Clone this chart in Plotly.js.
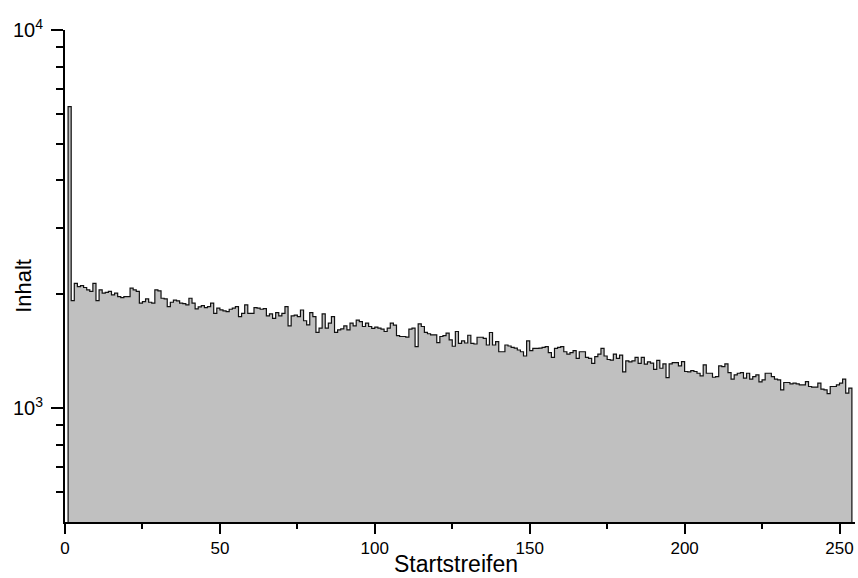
<!DOCTYPE html>
<html>
<head>
<meta charset="utf-8">
<script src="https://cdn.plot.ly/plotly-3.0.1.min.js"></script>
<style>html,body{margin:0;padding:0;background:#fff;}#chart{width:858px;height:578px;}</style>
</head>
<body>
<div id="chart"></div>
<script>
// Histogram contents: bins of width 1, first bin starts at Startstreifen = 1
const firstBinEdge = 1;
const binWidth = 1;
const counts = [
  6270,1925,2139,2097,2110,2085,2055,2035,2139,1925,
  2055,2014,2025,2035,1993,2014,1973,1960,1973,1973,
  2076,2055,2035,1895,1914,1945,1906,1895,2055,2043,
  1953,1945,1856,1906,1930,1922,1895,1891,1876,1953,
  1895,1830,1853,1868,1845,1856,1895,1780,1838,1819,
  1808,1800,1826,1838,1856,1747,1780,1876,1780,1780,
  1845,1838,1826,1833,1754,1775,1727,1789,1754,1781,
  1856,1650,1754,1763,1745,1818,1703,1661,1789,1745,
  1587,1628,1775,1628,1678,1745,1587,1611,1621,1650,
  1611,1678,1650,1710,1693,1644,1678,1644,1625,1638,
  1628,1618,1595,1628,1678,1658,1555,1547,1547,1541,
  1618,1628,1455,1670,1644,1587,1573,1563,1563,1491,
  1547,1555,1579,1516,1458,1595,1484,1506,1487,1559,
  1484,1478,1540,1540,1530,1469,1585,1469,1500,1410,
  1410,1469,1460,1448,1442,1425,1410,1374,1506,1419,
  1439,1439,1442,1448,1454,1402,1362,1439,1448,1454,
  1410,1390,1402,1419,1354,1410,1410,1362,1354,1313,
  1368,1390,1439,1374,1345,1340,1390,1354,1382,1248,
  1334,1326,1334,1362,1313,1362,1308,1326,1315,1267,
  1337,1275,1309,1205,1309,1320,1320,1293,1328,1250,
  1247,1257,1250,1237,1217,1302,1237,1237,1207,1212,
  1293,1288,1309,1242,1193,1225,1237,1242,1200,1237,
  1193,1212,1225,1174,1188,1237,1237,1212,1193,1188,
  1118,1169,1169,1159,1164,1159,1152,1152,1176,1141,
  1137,1137,1164,1123,1118,1092,1141,1141,1152,1164,
  1193,1096,1130
];
const xTickVals = [0, 50, 100, 150, 200, 250];
const xMinorTickVals = [25, 75, 125, 175, 225];
const yTickVals = [1000, 10000];
const yTickText = ['10<sup>3</sup>', '10<sup>4</sup>'];
const yMinorTickVals = [600, 700, 800, 900, 2000, 3000, 4000, 5000, 6000, 7000, 8000, 9000];
const xTitle = 'Startstreifen';
const yTitle = 'Inhalt';

// Build histogram outline (step) from bin contents
const baseline = 1; // below visible range on log axis
const stepX = [firstBinEdge];
const stepY = [baseline];
counts.forEach((c, i) => { stepX.push(firstBinEdge + i * binWidth); stepY.push(c); });
const lastEdge = firstBinEdge + counts.length * binWidth;
stepX.push(lastEdge); stepY.push(counts[counts.length - 1]);
stepX.push(lastEdge); stepY.push(baseline);

const font = 'Liberation Sans, Arial, Helvetica, sans-serif';
const trace = {
  type: 'scatter', mode: 'lines',
  x: stepX, y: stepY,
  line: {shape: 'hv', color: '#111111', width: 1.2},
  fill: 'toself', fillcolor: '#c0c0c0',
  hoverinfo: 'skip', showlegend: false
};
const layout = {
  width: 858, height: 578,
  margin: {l: 65, r: 3, t: 30, b: 56, pad: 0},
  paper_bgcolor: '#ffffff', plot_bgcolor: '#ffffff',
  font: {family: font, color: '#000'},
  showlegend: false,
  xaxis: {
    range: [0, 255], showgrid: false, zeroline: false,
    showline: true, linecolor: '#000', linewidth: 2,
    ticks: 'outside', ticklen: 10, tickwidth: 2, tickcolor: '#000',
    tickmode: 'array', tickvals: xTickVals,
    minor: {tickmode: 'array', tickvals: xMinorTickVals, ticks: 'outside', ticklen: 5, tickwidth: 2, tickcolor: '#000'},
    tickfont: {size: 17, family: font}
  },
  yaxis: {
    type: 'log', range: [Math.log10(500), 4], showgrid: false, zeroline: false,
    showline: true, linecolor: '#000', linewidth: 2,
    ticks: 'outside', ticklen: 12, tickwidth: 2, tickcolor: '#000',
    tickmode: 'array', tickvals: yTickVals, ticktext: yTickText,
    ticklabelstandoff: 4,
    minor: {tickmode: 'array', tickvals: yMinorTickVals, ticks: 'outside', ticklen: 7, tickwidth: 2, tickcolor: '#000'},
    tickfont: {size: 20, family: font}
  },
  annotations: [
    {text: xTitle, xref: 'paper', yref: 'paper', x: 0.495, y: 0, yshift: -42,
     xanchor: 'center', yanchor: 'middle', showarrow: false, font: {size: 23, family: font, color: '#000'}},
    {text: yTitle, xref: 'paper', yref: 'paper', x: 0, y: 0.48, xshift: -41,
     xanchor: 'center', yanchor: 'middle', textangle: -90, showarrow: false, font: {size: 22, family: font, color: '#000'}}
  ]
};
Plotly.newPlot('chart', [trace], layout, {displayModeBar: false, staticPlot: true});
</script>
</body>
</html>
